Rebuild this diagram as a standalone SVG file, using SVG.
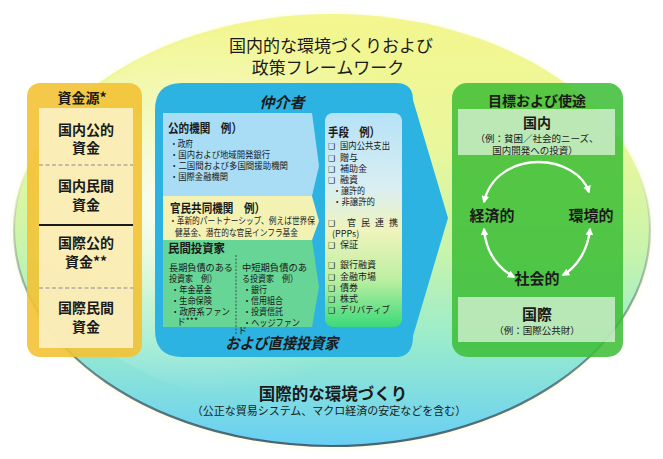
<svg xmlns="http://www.w3.org/2000/svg" width="663" height="459" viewBox="0 0 663 459">
<defs>
<linearGradient id="bg" x1="0" y1="0" x2="0" y2="1">
<stop offset="0" stop-color="#f4f68e"/>
<stop offset="0.3" stop-color="#eaf79c"/>
<stop offset="0.55" stop-color="#c8f4ac"/>
<stop offset="0.75" stop-color="#9aeccc"/>
<stop offset="1" stop-color="#68cff4"/>
</linearGradient>
<radialGradient id="hl" cx="0.3" cy="0.48" r="0.5">
<stop offset="0" stop-color="#ffffff" stop-opacity="0.95"/>
<stop offset="0.5" stop-color="#ffffff" stop-opacity="0.35"/>
<stop offset="1" stop-color="#ffffff" stop-opacity="0"/>
</radialGradient>
<linearGradient id="edge" x1="0" y1="0" x2="0" y2="1">
<stop offset="0.35" stop-color="#3d5566" stop-opacity="0"/>
<stop offset="0.75" stop-color="#3d5566" stop-opacity="0.6"/>
<stop offset="1" stop-color="#3d5566" stop-opacity="0.9"/>
</linearGradient>
<linearGradient id="inst" x1="0" y1="0" x2="0" y2="1">
<stop offset="0" stop-color="#b6e2f7"/>
<stop offset="0.35" stop-color="#d9eef2"/>
<stop offset="0.55" stop-color="#eff4bc"/>
<stop offset="0.78" stop-color="#bcefa2"/>
<stop offset="1" stop-color="#3cd97a"/>
</linearGradient>
<marker id="ah" viewBox="0 0 10 10" refX="8" refY="5" markerWidth="3.2" markerHeight="3.2" orient="auto-start-reverse">
<path d="M0,0 L10,5 L0,10 Z" fill="#ffffff"/>
</marker>
<filter id="blur" x="-10%" y="-10%" width="120%" height="120%"><feGaussianBlur stdDeviation="3"/></filter>
</defs>
<style>
text{font-family:"Noto Sans CJK JP","Noto Sans CJK SC",sans-serif;fill:#1a1a1a}
.b{font-weight:bold}
.t14{font-size:14px;font-weight:bold;text-anchor:middle}
.h{font-size:12.5px;font-weight:bold}
.s{font-size:9px}
.m{font-size:9.5px}
.cb{font-family:"DejaVu Sans",sans-serif;font-size:8px}
.c{text-anchor:middle}
.it{font-style:italic;font-weight:bold;text-anchor:middle}
.arc{fill:none;stroke:#ffffff;stroke-width:2.4;marker-start:url(#ah);marker-end:url(#ah)}
</style>
<rect width="663" height="459" fill="#ffffff"/>

<g id="environment">
<ellipse cx="332" cy="231" rx="318" ry="216" fill="#f3f7a0" opacity="0.5" filter="url(#blur)"/>
<ellipse cx="332" cy="230" rx="318" ry="216" fill="url(#bg)"/>
<ellipse cx="290" cy="215" rx="260" ry="190" fill="url(#hl)"/>
<ellipse cx="332" cy="230" rx="318" ry="216" fill="none" stroke="url(#edge)" stroke-width="2.2"/>
<text x="331" y="51.5" class="c" style="font-size:17px">国内的な環境づくりおよび</text>
<text x="328" y="73.5" class="c" style="font-size:17px">政策フレームワーク</text>
<text x="333" y="400" class="c b" style="font-size:16.5px">国際的な環境づくり</text>
<text x="329" y="415" class="c" style="font-size:11px">（公正な貿易システム、マクロ経済の安定などを含む）</text>
</g>

<g id="funding-sources">
<rect x="27" y="83" width="115" height="274" rx="13" fill="#f3c234" opacity="0.9"/>
<rect x="39" y="108" width="94" height="240" fill="#fcf1c6" opacity="0.88"/>
<text x="82" y="103" class="t14">資金源*</text>
<line x1="39" y1="165" x2="133" y2="165" stroke="#8a8a8a" stroke-dasharray="4,2.5"/>
<line x1="39" y1="225" x2="133" y2="225" stroke="#1a1a1a" stroke-width="2"/>
<line x1="39" y1="288" x2="133" y2="288" stroke="#8a8a8a" stroke-dasharray="4,2.5"/>
<text x="86" y="135" class="t14">国内公的</text>
<text x="86" y="153" class="t14">資金</text>
<text x="86" y="191" class="t14">国内民間</text>
<text x="86" y="210" class="t14">資金</text>
<text x="86" y="248" class="t14">国際公的</text>
<text x="86" y="267" class="t14">資金**</text>
<text x="86" y="313" class="t14">国際民間</text>
<text x="86" y="332" class="t14">資金</text>
</g>

<g id="intermediaries">
<path d="M155,110 Q155,83 182,83 L396,83 Q413,83 413,100 L448,218 L413,336 Q413,357 396,357 L182,357 Q155,357 155,330 Z" fill="#2db3e2"/>
<text x="282" y="108" class="it" style="font-size:15px">仲介者</text>
<text x="282" y="349" class="it" style="font-size:15.5px" textLength="113" lengthAdjust="spacingAndGlyphs">および直接投資家</text>
</g>

<g id="public-institutions">
<path d="M163,113 L312,113 L319,166 L312,196 L163,196 Z" fill="#a8ddf5"/>
<text x="168" y="132.5" class="h" textLength="74" lengthAdjust="spacingAndGlyphs">公的機関　例）</text>
<text x="170" y="146.5" class="s" textLength="23" lengthAdjust="spacingAndGlyphs">・政府</text>
<text x="170" y="157.5" class="s" textLength="100" lengthAdjust="spacingAndGlyphs">・国内および地域開発銀行</text>
<text x="170" y="168.5" class="s" textLength="118" lengthAdjust="spacingAndGlyphs">・二国間および多国間援助機関</text>
<text x="170" y="180" class="s" textLength="58" lengthAdjust="spacingAndGlyphs">・国際金融機関</text>
</g>

<g id="public-private-institutions">
<path d="M163,196 L312,196 L319,221 L312,240 L163,240 Z" fill="#f3f2b2"/>
<text x="170" y="212.5" class="h" textLength="95" lengthAdjust="spacingAndGlyphs">官民共同機関　例）</text>
<text x="169" y="223.5" class="s" textLength="146" lengthAdjust="spacingAndGlyphs">・革新的パートナーシップ、例えば世界保</text>
<text x="175" y="235.5" class="s" textLength="123" lengthAdjust="spacingAndGlyphs">健基金、潜在的な官民インフラ基金</text>
</g>

<g id="private-investors">
<path d="M163,240 L312,240 L319,287 L312,327 L163,327 Z" fill="#66d596"/>
<text x="168" y="252.5" class="h" textLength="57" lengthAdjust="spacingAndGlyphs">民間投資家</text>
<line x1="236" y1="255" x2="236" y2="334" stroke="#333333" stroke-width="0.8" stroke-dasharray="2,1.5"/>
<text x="169" y="270.5" class="m" textLength="64" lengthAdjust="spacingAndGlyphs">長期負債のある</text>
<text x="169" y="281.5" class="m" textLength="48" lengthAdjust="spacingAndGlyphs">投資家　例）</text>
<text x="171" y="292.5" class="m" textLength="41" lengthAdjust="spacingAndGlyphs">・年金基金</text>
<text x="171" y="303.5" class="m" textLength="41" lengthAdjust="spacingAndGlyphs">・生命保険</text>
<text x="171" y="314.5" class="m" textLength="59" lengthAdjust="spacingAndGlyphs">・政府系ファン</text>
<text x="177" y="324.5" class="m" textLength="21" lengthAdjust="spacingAndGlyphs">ド***</text>
<text x="242" y="270.5" class="m" textLength="65" lengthAdjust="spacingAndGlyphs">中短期負債のあ</text>
<text x="242" y="281.5" class="m" textLength="56" lengthAdjust="spacingAndGlyphs">る投資家　例）</text>
<text x="243" y="292.5" class="m" textLength="24" lengthAdjust="spacingAndGlyphs">・銀行</text>
<text x="243" y="303.5" class="m" textLength="40" lengthAdjust="spacingAndGlyphs">・信用組合</text>
<text x="243" y="314.5" class="m" textLength="40" lengthAdjust="spacingAndGlyphs">・投資信託</text>
<text x="243" y="325.5" class="m" textLength="57" lengthAdjust="spacingAndGlyphs">・ヘッジファン</text>
<text x="238" y="333.5" class="s">ド</text>
</g>

<g id="instruments">
<rect x="325" y="113" width="77" height="214" rx="8" fill="url(#inst)"/>
<text x="328" y="136.5" class="h" textLength="52" lengthAdjust="spacingAndGlyphs">手段　例）</text>
<text x="328" y="149.3" class="cb">❑</text><text x="340" y="149.3" class="s" textLength="50" lengthAdjust="spacingAndGlyphs">国内公共支出</text>
<text x="328" y="161.3" class="cb">❑</text><text x="340" y="161.3" class="s">贈与</text>
<text x="328" y="172.3" class="cb">❑</text><text x="340" y="172.3" class="s">補助金</text>
<text x="328" y="183.3" class="cb">❑</text><text x="340" y="183.3" class="s">融資</text>
<text x="333" y="194.3" class="s" textLength="32" lengthAdjust="spacingAndGlyphs">・譲許的</text>
<text x="333" y="205.3" class="s" textLength="42" lengthAdjust="spacingAndGlyphs">・非譲許的</text>
<text x="328" y="226.3" class="cb">❑</text><text x="347" y="226.3" class="s" textLength="51" lengthAdjust="spacing">官民連携</text>
<text x="332" y="237.3" class="s">(PPPs)</text>
<text x="328" y="248.3" class="cb">❑</text><text x="340" y="248.3" class="s">保証</text>
<text x="328" y="268.3" class="cb">❑</text><text x="340" y="268.3" class="s">銀行融資</text>
<text x="328" y="280.3" class="cb">❑</text><text x="340" y="280.3" class="s">金融市場</text>
<text x="328" y="291.3" class="cb">❑</text><text x="340" y="291.3" class="s">債券</text>
<text x="328" y="302.3" class="cb">❑</text><text x="340" y="302.3" class="s">株式</text>
<text x="328" y="313.3" class="cb">❑</text><text x="340" y="313.3" class="s" textLength="50" lengthAdjust="spacingAndGlyphs">デリバティブ</text>
</g>

<g id="goals">
<rect x="452" y="83" width="171" height="274" rx="15" fill="#3cbe35" opacity="0.86"/>
<text x="537" y="106" class="t14">目標および使途</text>
</g>
<g id="goal-domestic">
<rect x="458" y="109" width="157" height="46" fill="#ffffff" opacity="0.6"/>
<text x="537" y="127.5" class="t14">国内</text>
<text x="537" y="141.5" class="m c">（例：貧困／社会的ニーズ、</text>
<text x="535" y="153.5" class="m c">国内開発への投資）</text>
</g>
<g id="goal-international">
<rect x="458" y="297" width="157" height="45" fill="#ffffff" opacity="0.6"/>
<text x="537" y="320" class="b c" style="font-size:15px">国際</text>
<text x="537" y="334" class="m c">（例：国際公共財）</text>
</g>
<g id="goal-economic"><text x="492" y="220.5" class="b c" style="font-size:15px">経済的</text></g>
<g id="goal-environmental"><text x="591" y="220.5" class="b c" style="font-size:15px">環境的</text></g>
<g id="goal-social"><text x="537" y="283.5" class="b c" style="font-size:15px">社会的</text></g>

<g id="connectors">
<path class="arc" d="M484,202 C490,175 515,162 538,162 C562,162 583,174 589,192"/>
<path class="arc" d="M484,229 C486,252 498,268 514,277"/>
<path class="arc" d="M590,229 C588,250 577,267 563,275"/>
</g>
</svg>
